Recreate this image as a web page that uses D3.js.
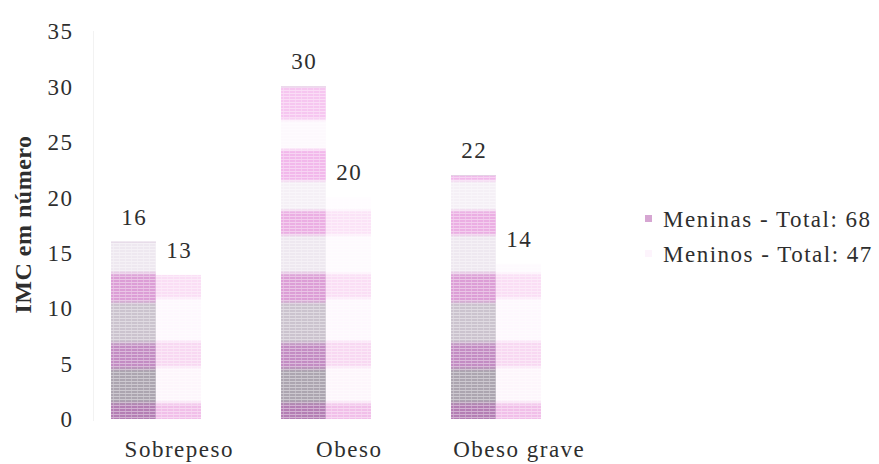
<!DOCTYPE html>
<html>
<head>
<meta charset="utf-8">
<script src="https://cdn.jsdelivr.net/npm/d3@7/dist/d3.min.js"></script>
<style>
  html, body { margin: 0; padding: 0; background: #ffffff; }
  svg { display: block; }
  text {
    font-family: "Liberation Serif", "Times New Roman", serif;
    fill: #2e2e2e;
  }
</style>
</head>
<body>
<svg id="chart" width="879" height="464"></svg>
<script>
// Categories and series values
const categories = ["Sobrepeso", "Obeso", "Obeso grave"];
const seriesNames = ["Meninas", "Meninos"];
const meninas = [16, 30, 22];
const meninos = [13, 20, 14];
const legendLabels = ["Meninas - Total: 68", "Meninos - Total: 47"];
const yTicks = [0, 5, 10, 15, 20, 25, 30, 35];
const yTitle = "IMC em número";

const FS = 23;          // font size
const LS = 1.5;         // letter spacing, px
const INK = "#2e2e2e";
const SERIF = "'Liberation Serif', 'Times New Roman', serif";

const svg = d3.select("#chart");
const defs = svg.append("defs");

const x0 = d3.scaleBand()
  .domain(categories)
  .range([93.5, 603.5])
  .paddingInner(0.206)
  .paddingOuter(0.103);

// two bars per group occupy the left two thirds of each group slot
const x1 = d3.scaleBand()
  .domain(seriesNames)
  .range([0, x0.bandwidth() * 2 / 3]);

const y = d3.scaleLinear().domain([0, 35]).range([419, 31]);

// Banded fills anchored to the value scale so stripes line up across bars
function bandGradient(id, stops) {
  const g = defs.append("linearGradient")
    .attr("id", id)
    .attr("gradientUnits", "userSpaceOnUse")
    .attr("x1", 0).attr("x2", 0)
    .attr("y1", y(0)).attr("y2", y(30));
  stops.forEach(([v0, v1, c]) => {
    g.append("stop").attr("offset", v0 / 30).attr("stop-color", c);
    g.append("stop").attr("offset", v1 / 30).attr("stop-color", c);
  });
}

bandGradient("fillMeninas", [
  [0, 1.2, "#b47eb4"],
  [1.7, 4.3, "#aca5b0"],
  [4.8, 6.6, "#c38cc3"],
  [7.1, 10.3, "#cbc3ce"],
  [10.8, 12.9, "#dc9ed6"],
  [13.4, 16.4, "#eee8f0"],
  [16.8, 18.6, "#ebaee3"],
  [19.0, 21.3, "#f5f0f6"],
  [21.7, 24.1, "#f2b8eb"],
  [24.5, 26.8, "#fdf9fd"],
  [27.2, 30, "#f6c6f0"]
]);

bandGradient("fillMeninos", [
  [0, 1.2, "#f1bfe9"],
  [1.7, 4.5, "#fdf6fc"],
  [4.9, 6.8, "#f8d8f2"],
  [7.2, 10.7, "#fef8fe"],
  [11.1, 12.9, "#fadef5"],
  [13.3, 16.4, "#fefafe"],
  [16.8, 18.6, "#fbe3f7"],
  [19.0, 30, "#fffcff"]
]);

// fine halftone-like screen laid over the bars
const tex = defs.append("pattern")
  .attr("id", "screen")
  .attr("patternUnits", "userSpaceOnUse")
  .attr("width", 6).attr("height", 3);
tex.append("rect").attr("x", 0).attr("y", 0).attr("width", 6).attr("height", 1)
  .attr("fill", "#ffffff").attr("opacity", 0.4);
tex.append("rect").attr("x", 2).attr("y", 1).attr("width", 1).attr("height", 2)
  .attr("fill", "#ffffff").attr("opacity", 0.25);

// faint axis line
svg.append("line")
  .attr("x1", 93.5).attr("x2", 93.5)
  .attr("y1", y(35)).attr("y2", y(0) + 2)
  .attr("stroke", "#f2f2f2").attr("stroke-width", 1);

// y axis tick labels
const yAxis = svg.append("g")
  .attr("transform", "translate(93.5,0)")
  .call(d3.axisLeft(y).tickValues(yTicks).tickSize(0).tickPadding(20));
yAxis.select(".domain").remove();
yAxis.selectAll("text")
  .attr("dy", "0.34em")
  .style("font-family", SERIF)
  .style("font-size", FS + "px")
  .style("letter-spacing", LS + "px")
  .style("fill", INK);

// y axis title
svg.append("text")
  .attr("transform", `translate(31,${(132 + 317) / 2}) rotate(-90)`)
  .attr("text-anchor", "middle")
  .style("font-size", "24px")
  .style("font-weight", "bold")
  .style("letter-spacing", "0.5px")
  .text(yTitle);

// x axis category labels
const xAxis = svg.append("g")
  .attr("transform", `translate(0,${y(0)})`)
  .call(d3.axisBottom(x0).tickSize(0).tickPadding(0));
xAxis.select(".domain").remove();
xAxis.selectAll(".tick text")
  .attr("x", LS / 2)
  .attr("y", 38)
  .attr("dy", 0)
  .style("font-family", SERIF)
  .style("font-size", FS + "px")
  .style("letter-spacing", LS + "px")
  .style("fill", INK);

// bars
const data = categories.map((c, i) => ({
  cat: c,
  vals: [
    { key: "Meninas", v: meninas[i] },
    { key: "Meninos", v: meninos[i] }
  ]
}));

const groups = svg.append("g").selectAll("g")
  .data(data)
  .join("g")
  .attr("transform", d => `translate(${x0(d.cat)},0)`);

groups.selectAll("rect.bar")
  .data(d => d.vals)
  .join("rect")
  .attr("class", "bar")
  .attr("x", d => x1(d.key))
  .attr("y", d => y(d.v))
  .attr("width", x1.bandwidth())
  .attr("height", d => y(0) - y(d.v))
  .attr("fill", d => d.key === "Meninas" ? "url(#fillMeninas)" : "url(#fillMeninos)");

groups.selectAll("rect.tex")
  .data(d => d.vals)
  .join("rect")
  .attr("class", "tex")
  .attr("x", d => x1(d.key))
  .attr("y", d => y(d.v))
  .attr("width", x1.bandwidth())
  .attr("height", d => y(0) - y(d.v))
  .attr("fill", "url(#screen)");

// thin top edge on the girls' bars
groups.selectAll("line.top")
  .data(d => d.vals.filter(v => v.key === "Meninas"))
  .join("line")
  .attr("class", "top")
  .attr("x1", d => x1(d.key))
  .attr("x2", d => x1(d.key) + x1.bandwidth())
  .attr("y1", d => y(d.v) + 0.5)
  .attr("y2", d => y(d.v) + 0.5)
  .attr("stroke", "#e2d4e4")
  .attr("stroke-width", 1);

// value labels
groups.selectAll("text.val")
  .data(d => d.vals)
  .join("text")
  .attr("class", "val")
  .attr("x", d => x1(d.key) + x1.bandwidth() / 2 + LS / 2)
  .attr("y", d => y(d.v) - 17)
  .attr("text-anchor", "middle")
  .style("font-size", FS + "px")
  .style("letter-spacing", LS + "px")
  .text(d => d.v);

// legend
const legend = svg.append("g");
const legendFills = ["#d6a6d2", "#fdf4fc"];
legendLabels.forEach((lab, i) => {
  const ly = 227 + i * 35;
  legend.append("rect")
    .attr("x", 645).attr("y", ly - 12)
    .attr("width", 7).attr("height", 7)
    .attr("fill", legendFills[i]);
  legend.append("text")
    .attr("x", 663).attr("y", ly)
    .style("font-size", FS + "px")
    .style("letter-spacing", LS + "px")
    .text(lab);
});
</script>
</body>
</html>
